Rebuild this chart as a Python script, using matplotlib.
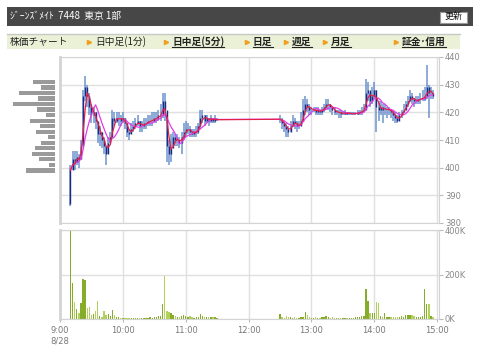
import numpy as np
import pandas as pd
import matplotlib
matplotlib.use("Agg")
import matplotlib.pyplot as plt
from matplotlib.patches import Rectangle
from matplotlib.lines import Line2D

plt.rcParams['font.family'] = ['Noto Sans CJK JP', 'DejaVu Sans']

# ---- texts
title = 'ｼﾞｰﾝｽﾞﾒｲﾄ  7448  東京 1部'
button = '更新'
menu_first = '株価チャート'
menu_items = ['日中足(1分)', '日中足(5分)', '日足', '週足', '月足', '証金･信用']
menu_links = [False, True, True, True, True, True]
hour_labels = ['9:00\n8/28', '10:00', '11:00', '12:00', '13:00', '14:00', '15:00']
price_ticks = [380, 390, 400, 410, 420, 430, 440]
vol_ticks = [0, 200000, 400000]
vol_labels = ['0K', '200K', '400K']

# ---- 2-minute bars, morning 9:10-11:30
am_open0 = 387
am_close = [399, 403, 402, 404, 403, 408, 426, 429, 426, 422,
            419, 420, 417, 412, 413, 410, 408, 405, 409, 411,
            418, 417, 418, 418, 417, 418, 416, 413, 412, 414,
            415, 416, 417, 415, 415, 416, 416, 417, 417, 417,
            418, 418, 419, 419, 424, 421, 408, 405, 407, 411,
            410, 410, 409, 411, 413, 414, 414, 413, 412, 413,
            413, 415, 418, 419, 417, 418, 417, 418, 417, 417.5,
            417.5]
am_high = [401, 406, 406, 406, 405, 410, 428, 433, 430, 427,
           423, 422, 420, 416, 415, 413, 411, 408, 411, 413,
           421, 420, 420, 420, 419, 420, 418, 416, 414, 416,
           417, 418, 419, 417, 417, 418, 418, 419, 419, 420,
           420, 420, 421, 423, 427, 427, 418, 410, 412, 413,
           412, 412, 411, 413, 416, 417, 416, 415, 414, 414,
           415, 416, 421, 421, 419, 419, 418, 419, 418, 419,
           418]
am_low = [386, 399, 399, 401, 400, 403, 408, 424, 422, 419,
          416, 416, 414, 409, 408, 407, 405, 401, 405, 409,
          411, 415, 416, 415, 415, 416, 414, 411, 410, 412,
          413, 414, 415, 413, 413, 414, 414, 415, 415, 415,
          416, 416, 417, 417, 418, 417, 402, 401, 402, 408,
          408, 408, 407, 405, 410, 411, 412, 411, 411, 411,
          411, 412, 414, 416, 415, 416, 415, 416, 416, 416,
          417]
am_vol = [397, 162, 75, 45, 25, 72, 181, 177, 50, 54,
          19, 22, 34, 82, 12, 10, 37, 16, 22, 12,
          39, 16, 10, 8, 6, 5, 5, 6, 5, 4,
          5, 6, 5, 4, 5, 4, 6, 5, 7, 6,
          8, 10, 12, 15, 67, 192, 34, 31, 27, 19,
          12, 8, 10, 14, 16, 12, 8, 14, 7, 6,
          8, 10, 22, 14, 8, 7, 8, 9, 7, 8,
          6]

# ---- 2-minute bars, afternoon 12:30-14:56
pm_close = [417.5, 416, 415, 414, 413, 415, 417, 416, 415, 415,
            417, 421, 423, 422, 421, 421, 421, 420, 421, 420,
            421, 422, 423, 423, 422, 421, 420, 420, 420, 419.5,
            419.5, 420, 419.5, 419.5, 419.5, 419.5, 419.5, 420, 420, 420.5,
            421, 427, 428, 424, 426, 428, 422, 421, 422, 421,
            421, 421, 421, 420, 419, 418, 417, 419, 420, 421,
            423, 424, 426, 425, 424, 424, 425, 425, 425, 426,
            429, 427, 427, 426]
pm_high = [419, 418, 417, 416, 415, 417, 419, 418, 417, 417,
           420, 425, 426, 425, 423, 422, 422, 422, 422, 421,
           422, 423, 425, 425, 423, 422, 422, 421, 421, 421,
           420, 421, 420, 420, 420, 420, 420, 421, 421, 422,
           423, 432, 431, 427, 429, 431, 428, 424, 424, 423,
           423, 422, 422, 421, 421, 420, 419, 420, 421, 423,
           424, 426, 428, 427, 425, 426, 426, 427, 428, 429,
           437, 430, 429, 428]
pm_low = [416, 414, 413, 411, 411, 413, 415, 414, 413, 414,
          415, 418, 419, 420, 419, 419, 420, 419, 419, 419,
          419, 420, 421, 421, 420, 419, 419, 419, 418, 418,
          419, 419, 419, 419, 419, 419, 419, 419, 419, 419,
          420, 421, 424, 422, 423, 425, 413, 417, 419, 416,
          419, 418, 419, 418, 417, 416, 416, 417, 418, 420,
          421, 422, 424, 423, 422, 423, 423, 423, 424, 424,
          425, 418, 425, 425]
pm_vol = [22, 8, 6, 15, 7, 10, 6, 8, 5, 6,
          7, 10, 31, 19, 8, 6, 5, 7, 5, 6,
          7, 8, 13, 9, 6, 7, 5, 5, 6, 5,
          5, 6, 5, 6, 5, 6, 7, 10, 8, 12,
          15, 135, 82, 27, 27, 27, 76, 72, 15, 10,
          27, 10, 9, 8, 10, 8, 9, 10, 12, 10,
          18, 16, 20, 18, 12, 10, 9, 11, 15, 135,
          67, 67, 15, 8]

# ---- volume by price (left side bars)
hist_price = [431, 429, 427, 425, 423, 421, 419, 417, 415, 413,
              411, 409, 407, 405, 403, 401, 399]
hist_vol = [22, 14, 36, 17, 42, 18, 9, 25, 15, 19,
            7, 14, 20, 23, 16, 6, 29]

am_t = 9 * 60 + 10 + 2 * np.arange(len(am_close))
pm_t = 12 * 60 + 30 + 2 * np.arange(len(pm_close))
t = np.concatenate([am_t, pm_t])
close = np.array(am_close + pm_close, dtype=float)
high = np.array(am_high + pm_high, dtype=float)
low = np.array(am_low + pm_low, dtype=float)
opens = np.concatenate([[am_open0], close[:-1]])
vol = np.array(am_vol + pm_vol, dtype=float) * 1000
ma_short = pd.Series(close).rolling(3, min_periods=1).mean()
ma_long = pd.Series(close).rolling(7, min_periods=1).mean()

W, H = 480, 354
fig = plt.figure(figsize=(4.8, 3.54), dpi=100)


def fx(px):
    return px / W


def fy(py):
    return 1 - py / H


# header bar
fig.patches.append(Rectangle((fx(7), fy(26)), fx(466), 19 / H, transform=fig.transFigure,
                             facecolor='#474747', edgecolor='none'))
fig.text(fx(10), fy(16.5), title, color='white', fontsize=7, va='center')
fig.patches.append(Rectangle((fx(440), fy(22.5)), fx(27), 11 / H, transform=fig.transFigure,
                             facecolor='white', edgecolor='#999999', lw=0.8))
fig.text(fx(453.5), fy(16.8), button, color='#111111', fontsize=6.5, ha='center', va='center')

# menu bar
fig.patches.append(Rectangle((fx(7), fy(49)), fx(453), 15.5 / H, transform=fig.transFigure,
                             facecolor='#eaf1d6', edgecolor='none'))
fig.lines.append(Line2D([fx(7), fx(460)], [fy(33.5)] * 2, transform=fig.transFigure,
                        color='#c8c8c8', lw=1))
fig.text(fx(10), fy(41.5), menu_first, color='#222222', fontsize=7, va='center')
arrow_x = [89, 166, 247, 286, 325, 396]
text_x = [95, 172, 253, 292, 331, 402]
menu_texts = []
for ax_, tx_, label, link in zip(arrow_x, text_x, menu_items, menu_links):
    fig.lines.append(Line2D([fx(ax_)], [fy(41.5)], transform=fig.transFigure, marker='>',
                            markersize=3, color='#f0a020', lw=0))
    txt = fig.text(fx(tx_), fy(41.5), label, color='#222222', fontsize=7, va='center',
                   fontweight='bold' if link else 'normal')
    menu_texts.append((txt, link))

# price panel
grid_c = '#e0e0e0'
spine_c = '#d4d4d4'
hours = [h * 60 for h in range(9, 16)]

ax = fig.add_axes([fx(60), fy(223), fx(379.3), 166 / H])
ax.set_xlim(540, 902)
ax.set_ylim(380, 440)
ax.set_xticks(hours)
ax.set_yticks(price_ticks)
ax.yaxis.tick_right()
ax.tick_params(axis='x', length=0, labelbottom=False)
ax.tick_params(axis='y', length=3, color='#bbbbbb', labelcolor='#888888', labelsize=6, pad=1)
for lab in ax.get_yticklabels():
    lab.set_family('DejaVu Sans')
ax.grid(True, color=grid_c, lw=1)
ax.set_axisbelow(True)
for s in ax.spines.values():
    s.set_color(spine_c)
ax.spines['left'].set_linewidth(2)

ax.vlines(t, low, high, color='#5f89c9', lw=1.1, alpha=0.9)
ax.vlines(t, opens, close, color='#1c2b80', lw=1.0)
ax.plot(t, ma_long, color='#e23ce6', lw=0.9)
ax.plot(t, ma_short, color='#e2204c', lw=0.9)

# volume panel
vax = fig.add_axes([fx(60), fy(319), fx(379.3), 89 / H])
vax.set_xlim(540, 902)
vax.set_ylim(0, 400000)
vax.set_xticks(hours)
vax.set_xticklabels(hour_labels)
vax.set_yticks(vol_ticks)
vax.set_yticklabels(vol_labels)
vax.yaxis.tick_right()
vax.tick_params(axis='x', length=2, color='#bbbbbb', labelcolor='#777777', labelsize=6, pad=3)
vax.tick_params(axis='y', length=3, color='#bbbbbb', labelcolor='#888888', labelsize=6, pad=1)
for lab in vax.get_xticklabels() + vax.get_yticklabels():
    lab.set_family('DejaVu Sans')
vax.grid(True, color=grid_c, lw=1)
vax.set_axisbelow(True)
for s in vax.spines.values():
    s.set_color(spine_c)
vax.spines['left'].set_linewidth(2)
up = close >= opens
vcol = np.where(up, '#86ad2a', '#b2d05c')
vax.bar(t, vol, width=1.3, color=vcol, lw=0)

# volume by price
hax = fig.add_axes([0, fy(223), fx(55), 166 / H])
hax.barh(hist_price, hist_vol, height=1.5, color='#9a9a9a')
hax.set_xlim(55, 0)
hax.set_ylim(380, 440)
hax.axis('off')

# underline the link items
fig.canvas.draw()
r = fig.canvas.get_renderer()
for txt, link in menu_texts:
    if link:
        bb = txt.get_window_extent(r)
        fig.lines.append(Line2D([bb.x0 / W, bb.x1 / W], [fy(46.5)] * 2,
                                transform=fig.transFigure, color='#222222', lw=0.8))

fig.savefig('out.png', dpi=100)
